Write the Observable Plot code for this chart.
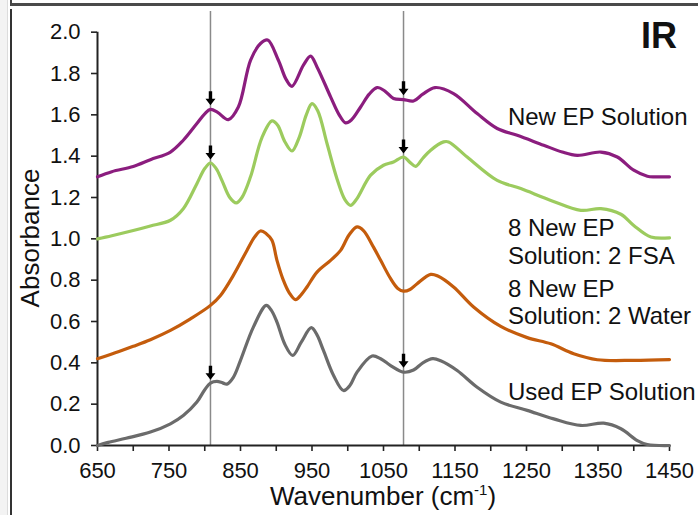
<!DOCTYPE html>
<html>
<head>
<meta charset="utf-8">
<script src="https://cdn.jsdelivr.net/npm/d3@7"></script>
<script src="https://cdn.jsdelivr.net/npm/@observablehq/plot@0.6"></script>
<style>
  html, body { margin: 0; padding: 0; background: #fff; }
  #page { position: relative; width: 698px; height: 515px; overflow: hidden; background: #fff; }
  #edge { position: absolute; left: 0; top: 0; width: 7px; height: 515px; background: #f3f3f3; border-right: 1px solid #dcdcdc; }
  #upper { position: absolute; left: 10px; top: -20px; width: 700px; height: 23px; border-left: 2px solid #444; border-bottom: 3px solid #4a4a4a; }
  #lower { position: absolute; left: 10px; top: 9px; height: 520px; border-left: 2px solid #333; }
  #chart { position: absolute; left: 0; top: 0; }
  #chart svg g[aria-label^="x-axis"] line, #chart svg g[aria-label^="y-axis"] line,
  #chart svg g[aria-label="x-axis tick"] path, #chart svg g[aria-label="y-axis tick"] path { stroke-width: 1.6px; stroke: #222; }
</style>
</head>
<body>
<div id="page">
  <div id="edge"></div>
  <div id="upper"></div>
  <div id="lower"></div>
  <div id="chart"></div>
</div>
<script>
// IR absorbance spectra of the four etching-solution samples.
const FONT = '"Liberation Sans", Arial, Helvetica, sans-serif';

// New EP Solution
const newEpWavenumber = [650, 670, 700, 724, 752, 770, 789, 800, 808, 818, 833, 847, 864, 878, 888, 903, 914, 922, 938, 948, 957, 976, 988, 997, 1005, 1018, 1030, 1041, 1052, 1064, 1078, 1092, 1105, 1122, 1148, 1181, 1209, 1237, 1274, 1300, 1321, 1354, 1377, 1400, 1419, 1430, 1450];
const newEpAbsorbance = [1.30, 1.325, 1.35, 1.383, 1.42, 1.477, 1.558, 1.605, 1.626, 1.612, 1.577, 1.638, 1.864, 1.945, 1.962, 1.864, 1.77, 1.738, 1.84, 1.884, 1.832, 1.687, 1.60, 1.561, 1.575, 1.638, 1.70, 1.732, 1.715, 1.679, 1.674, 1.667, 1.70, 1.732, 1.703, 1.606, 1.534, 1.501, 1.453, 1.42, 1.404, 1.42, 1.396, 1.332, 1.303, 1.30, 1.30];

// 8 New EP Solution : 2 FSA
const fsaWavenumber = [650, 670, 700, 724, 752, 770, 789, 800, 808, 816, 824, 835, 844, 852, 864, 880, 894, 902, 912, 922, 932, 942, 950, 958, 971, 985, 996, 1004, 1012, 1032, 1050, 1064, 1078, 1087, 1095, 1105, 1116, 1134, 1141, 1167, 1209, 1242, 1284, 1326, 1354, 1382, 1400, 1424, 1450];
const fsaAbsorbance = [1.00, 1.015, 1.04, 1.062, 1.09, 1.146, 1.267, 1.34, 1.367, 1.34, 1.283, 1.20, 1.174, 1.20, 1.30, 1.49, 1.571, 1.55, 1.47, 1.425, 1.49, 1.60, 1.654, 1.62, 1.461, 1.29, 1.19, 1.162, 1.19, 1.308, 1.356, 1.372, 1.396, 1.37, 1.351, 1.39, 1.429, 1.469, 1.469, 1.396, 1.283, 1.243, 1.186, 1.138, 1.146, 1.119, 1.065, 1.009, 1.005];

// 8 New EP Solution : 2 Water
const waterWavenumber = [650, 680, 700, 724, 752, 780, 808, 822, 840, 859, 870, 878, 886, 894, 901, 910, 918, 927, 935, 943, 957, 976, 990, 1002, 1013, 1022, 1036, 1046, 1060, 1070, 1078, 1087, 1097, 1116, 1126, 1148, 1176, 1214, 1251, 1284, 1316, 1349, 1400, 1450];
const waterAbsorbance = [0.42, 0.455, 0.48, 0.512, 0.557, 0.613, 0.678, 0.726, 0.823, 0.944, 1.01, 1.038, 1.025, 0.993, 0.896, 0.799, 0.74, 0.706, 0.73, 0.767, 0.839, 0.896, 0.944, 1.02, 1.058, 1.04, 0.96, 0.896, 0.807, 0.76, 0.747, 0.755, 0.783, 0.828, 0.82, 0.767, 0.67, 0.576, 0.522, 0.492, 0.444, 0.415, 0.412, 0.416];

// Used EP Solution
const usedWavenumber = [650, 665, 690, 724, 752, 770, 789, 800, 808, 817, 825, 831, 840, 850, 868, 886, 893, 901, 912, 923, 935, 949, 957, 966, 980, 994, 1003, 1013, 1034, 1046, 1060, 1078, 1092, 1105, 1119, 1130, 1153, 1181, 1214, 1251, 1288, 1326, 1358, 1382, 1405, 1419, 1450];
const usedAbsorbance = [0.00, 0.015, 0.035, 0.065, 0.105, 0.145, 0.21, 0.27, 0.302, 0.31, 0.303, 0.297, 0.33, 0.412, 0.573, 0.678, 0.655, 0.597, 0.49, 0.436, 0.50, 0.57, 0.535, 0.46, 0.34, 0.266, 0.29, 0.355, 0.433, 0.42, 0.387, 0.355, 0.365, 0.40, 0.42, 0.41, 0.363, 0.282, 0.21, 0.17, 0.129, 0.097, 0.108, 0.081, 0.024, 0.005, 0.0];

const seriesLabels = ["New EP Solution", "8 New EP\nSolution: 2 FSA", "8 New EP\nSolution: 2 Water", "Used EP Solution"];
const seriesColors = ["#8b1d7e", "#9ccb5e", "#c45c0c", "#6b6b6b"];

// Label anchors (wavenumber, absorbance at the label's vertical centre)
const labelWavenumber = [1224, 1224, 1224, 1224];
const labelAbsorbance = [1.593, 0.989, 0.697, 0.261];

// Marked band positions and the arrow tips pointing at them
const markerWavenumbers = [808, 1078];
const arrowWavenumber = [808, 808, 808, 1078, 1078, 1078];
const arrowAbsorbance = [1.646, 1.384, 0.318, 1.695, 1.413, 0.376];

// Axis ticks
const xTicks = [650, 700, 750, 800, 850, 900, 950, 1000, 1050, 1100, 1150, 1200, 1250, 1300, 1350, 1400, 1450];
const xTickLabels = [650, 750, 850, 950, 1050, 1150, 1250, 1350, 1450];
const yTicks = [0, 0.2, 0.4, 0.6, 0.8, 1.0, 1.2, 1.4, 1.6, 1.8, 2.0];

const zip = (wn, ab) => wn.map((w, i) => ({wavenumber: w, absorbance: ab[i]}));
const spectra = [
  zip(newEpWavenumber, newEpAbsorbance),
  zip(fsaWavenumber, fsaAbsorbance),
  zip(waterWavenumber, waterAbsorbance),
  zip(usedWavenumber, usedAbsorbance)
];
const labels = seriesLabels.map((text, i) => ({text, wavenumber: labelWavenumber[i], absorbance: labelAbsorbance[i]}));
const arrows = arrowWavenumber.map((w, i) => ({wavenumber: w, absorbance: arrowAbsorbance[i]}));

// Solid downward arrow whose tip sits at the symbol origin
const downArrow = {
  draw(context) {
    context.moveTo(-1.7, -14);
    context.lineTo(1.7, -14);
    context.lineTo(1.7, -6.5);
    context.lineTo(5, -6.5);
    context.lineTo(0, 0);
    context.lineTo(-5, -6.5);
    context.lineTo(-1.7, -6.5);
    context.closePath();
  }
};

const chart = Plot.plot({
  width: 698,
  height: 515,
  marginLeft: 97,
  marginRight: 29,
  marginTop: 11,
  marginBottom: 70,
  style: {fontFamily: FONT, fontSize: "22px", color: "#111", background: "transparent", overflow: "visible"},
  x: {
    domain: [650, 1450],
    ticks: xTicks,
    tickFormat: d => xTickLabels.includes(d) ? String(d) : "",
    tickSize: 6,
    tickPadding: 11,
    label: null
  },
  y: {
    domain: [0, 2.1],
    ticks: yTicks,
    tickFormat: d => d.toFixed(1),
    tickSize: 6,
    tickPadding: 11,
    label: null
  },
  marks: [
    Plot.ruleX(markerWavenumbers, {y1: 0, y2: 2.1, stroke: "#8a8a8a", strokeWidth: 1.5}),
    Plot.ruleY([0], {stroke: "#222", strokeWidth: 2}),
    Plot.ruleX([650], {y1: 0, y2: 2.0, stroke: "#222", strokeWidth: 2}),
    ...spectra.map((rows, i) => Plot.line(rows, {
      x: "wavenumber",
      y: "absorbance",
      stroke: seriesColors[i],
      strokeWidth: 3.2,
      curve: "catmull-rom"
    })),
    Plot.dot(arrows, {x: "wavenumber", y: "absorbance", symbol: downArrow, r: 5, fill: "#000", stroke: "none"}),
    Plot.text(labels, {
      x: "wavenumber",
      y: "absorbance",
      text: "text",
      textAnchor: "start",
      lineAnchor: "middle",
      lineHeight: 1.15,
      fontSize: 24,
      fill: "#111"
    })
  ]
});

const svg = d3.select(chart);
svg.append("text")
  .attr("x", 677).attr("y", 48)
  .attr("text-anchor", "end")
  .attr("font-size", 36).attr("font-weight", "bold")
  .attr("fill", "#111")
  .text("IR");

svg.append("text")
  .attr("transform", "translate(39,238) rotate(-90)")
  .attr("text-anchor", "middle")
  .attr("font-size", 26)
  .attr("fill", "#111")
  .text("Absorbance");

const xTitle = svg.append("text")
  .attr("x", 383).attr("y", 505)
  .attr("text-anchor", "middle")
  .attr("font-size", 26)
  .attr("fill", "#111");
xTitle.append("tspan").text("Wavenumber (cm");
xTitle.append("tspan").attr("font-size", 15).attr("dy", -10).text("-1");
xTitle.append("tspan").attr("dy", 10).text(")");

document.getElementById("chart").appendChild(chart);
</script>
</body>
</html>
